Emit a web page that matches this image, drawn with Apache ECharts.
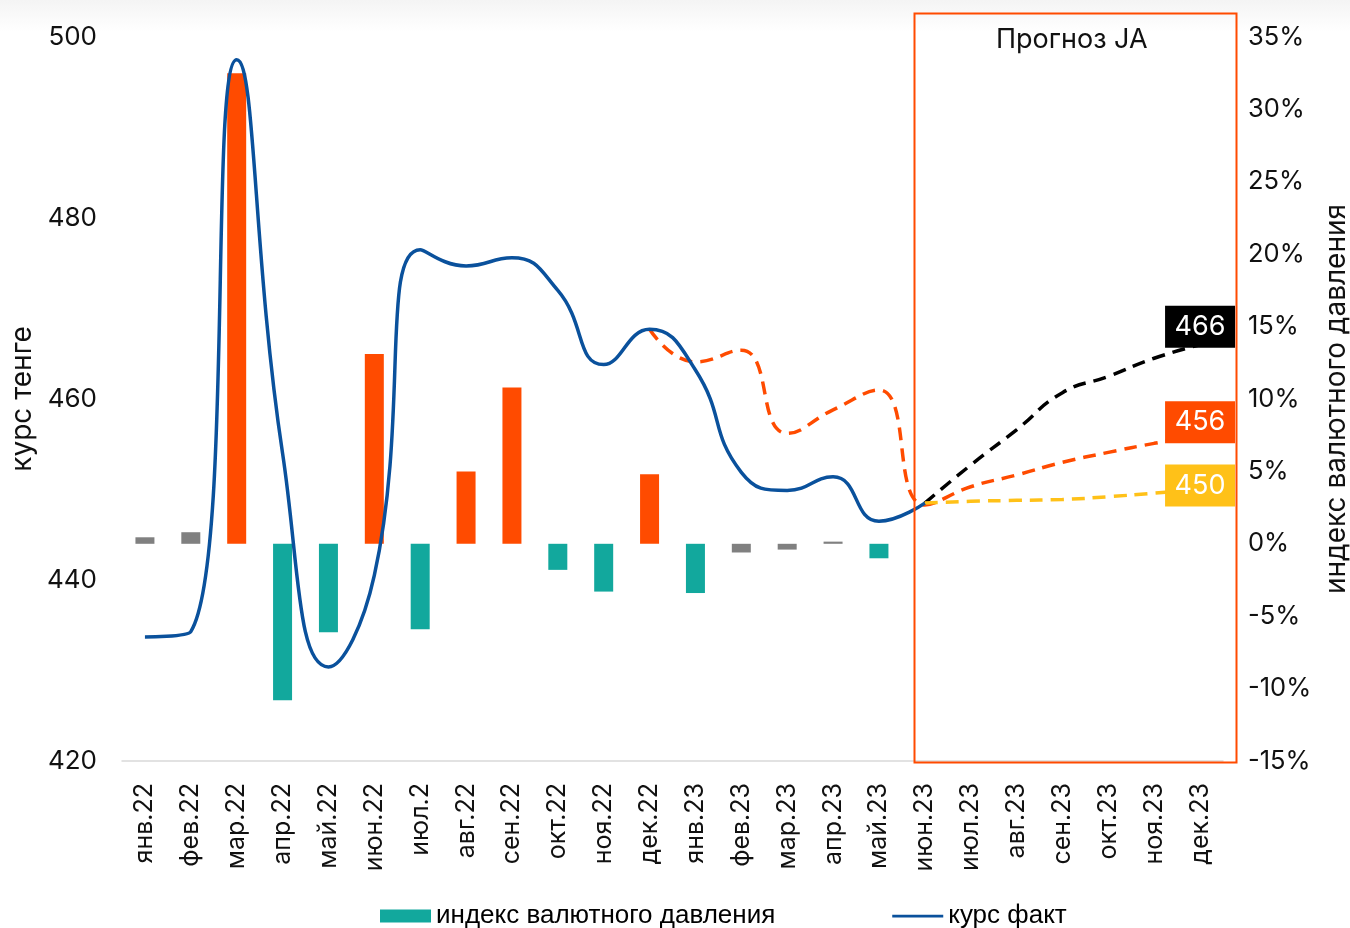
<!DOCTYPE html>
<html><head><meta charset="utf-8">
<script src="https://cdn.jsdelivr.net/npm/echarts@6/dist/echarts.min.js"></script>
<style>html,body{margin:0;padding:0;background:#fff;overflow:hidden}#c{width:1350px;height:928px}</style>
</head><body><div id="c"></div>
<script>
const categories = ['янв.22','фев.22','мар.22','апр.22','май.22','июн.22','июл.2','авг.22','сен.22','окт.22','ноя.22','дек.22','янв.23','фев.23','мар.23','апр.23','май.23','июн.23','июл.23','авг.23','сен.23','окт.23','ноя.23','дек.23'];
const pressureIndex = [0.45,0.8,32.5,-10.8,-6.1,13.1,-5.9,5.0,10.8,-1.8,-3.3,4.8,-3.4,-0.6,-0.4,0.15,-1.0,null,null,null,null,null,null,null];
const rateFact = [433.7,434.3,497.5,454.0,430.4,440.5,476.5,474.7,475.6,472.0,463.8,467.7,463.2,451.9,449.9,451.4,446.5,448.5,null,null,null,null,null,null];
const forecastOrange = [null,null,null,null,null,null,null,null,null,null,null,467.7,464.1,465.4,456.2,458.8,461.0,448.3,450.3,451.6,453.0,454.1,455.1,456];
const forecastBlack = [null,null,null,null,null,null,null,null,null,null,null,null,null,null,null,null,null,448.5,452.7,456.6,460.7,462.5,464.5,466];
const forecastYellow = [null,null,null,null,null,null,null,null,null,null,null,null,null,null,null,null,null,448.5,448.7,448.8,448.9,449.2,449.6,450];
const leftTicks = {min:420, max:500, interval:20};
const rightTicks = {min:-15, max:35, interval:5};
const seriesNames = {bar:'индекс валютного давления', fact:'курс факт'};
const axisNames = {left:'курс тенге', right:'индекс валютного давления'};
const forecastTitle = 'Прогноз JA';

const ORANGE='#FF4B00', TEAL='#12A89D', GRAY='#808080', BLUE='#0A519C', YELLOW='#FFC118';
const last = categories.length-1;
function barColor(v){ if(v==null) return TEAL; if(Math.abs(v)<1) return GRAY; return v>0?ORANGE:TEAL; }
function endMark(arr,color,offY){
  return {symbol:'rect', symbolSize:[70,42], symbolOffset:[0,offY], silent:true,
    itemStyle:{color:color},
    label:{show:true, position:'inside', color:'#fff', fontSize:27, fontFamily:'Inter', formatter:String(arr[last])},
    data:[{coord:[last, arr[last]], value:arr[last]}]};
}
const chart = echarts.init(document.getElementById('c'), null, {renderer:'canvas'});
const font='Inter';
const DASH=[13,8];
chart.setOption({
  animation:false,
  backgroundColor:'#fff',
  textStyle:{fontFamily:font},
  grid:{left:122, right:127, top:37, bottom:167, containLabel:false, outerBoundsMode:'none'},
  legend:{
    data:[
      {name:seriesNames.bar, icon:'rect'},
      {name:seriesNames.fact, icon:'path://M0,0 L0.01,0 L0,0.01 Z M0,5.2 L54,5.2 L54,8.2 L0,8.2 Z M0,13 L0.01,13 L0,12.99 Z'}
    ],
    bottom:-6, left:375,
    itemWidth:51, itemHeight:13, itemGap:117,
    textStyle:{fontFamily:'Liberation Sans', fontSize:26, color:'#000', padding:[0,0,0,0]}
  },
  graphic:[
    {type:'rect', left:0, top:0, z:-10, shape:{width:1350, height:32},
     style:{fill:new echarts.graphic.LinearGradient(0,0,0,1,[{offset:0,color:'#f4f4f4'},{offset:1,color:'#ffffff'}])}},
    {type:'rect', left:912, top:11, z:50, shape:{width:322, height:749},
     style:{fill:'none', stroke:ORANGE, lineWidth:2}},
    {type:'text', left:996, top:26, z:50, style:{text:forecastTitle, font:'27px Inter', fill:'#111'}}
  ],
  xAxis:{
    type:'category', data:categories, boundaryGap:true,
    axisLine:{onZero:false, lineStyle:{color:'#d9d9d9', width:1.5}}, axisTick:{show:false},
    axisLabel:{rotate:90, fontSize:25, color:'#111', margin:22, interval:0}
  },
  yAxis:[
    {type:'value', min:leftTicks.min, max:leftTicks.max, interval:leftTicks.interval,
     name:axisNames.left, nameLocation:'middle', nameRotate:90, nameGap:81,
     nameTextStyle:{fontSize:28, color:'#111'},
     axisLine:{show:false}, axisTick:{show:false}, splitLine:{show:false},
     axisLabel:{fontSize:26, color:'#111', margin:25}},
    {type:'value', min:rightTicks.min, max:rightTicks.max, interval:rightTicks.interval,
     name:axisNames.right, nameLocation:'middle', nameRotate:90, nameGap:88,
     nameTextStyle:{fontSize:28, color:'#111'},
     axisLine:{show:false}, axisTick:{show:false}, splitLine:{show:false},
     axisLabel:{fontSize:25.5, color:'#111', margin:25, formatter:'{value}%'}}
  ],
  series:[
    {name:seriesNames.bar, type:'bar', yAxisIndex:1, barWidth:19, itemStyle:{color:TEAL},
     data:pressureIndex.map(v=>v==null?null:{value:v, itemStyle:{color:barColor(v)}}), z:2},
    {name:'прогноз', type:'line', smooth:0.5, symbol:'none', z:4,
     lineStyle:{color:ORANGE, width:3.5, type:DASH}, data:forecastOrange,
     markPoint:endMark(forecastOrange, ORANGE, -13)},
    {name:'прогноз2', type:'line', smooth:0.5, symbol:'none', z:4,
     lineStyle:{color:'#000', width:3.5, type:DASH}, data:forecastBlack,
     markPoint:endMark(forecastBlack, '#000', -18)},
    {name:'прогноз3', type:'line', smooth:0.5, symbol:'none', z:4,
     lineStyle:{color:YELLOW, width:3.5, type:DASH}, data:forecastYellow,
     markPoint:endMark(forecastYellow, YELLOW, -4)},
    {name:seriesNames.fact, type:'line', smooth:0.5, symbol:'none', z:5,
     itemStyle:{color:BLUE}, lineStyle:{color:BLUE, width:3.5}, data:rateFact}
  ]
});
</script></body></html>
